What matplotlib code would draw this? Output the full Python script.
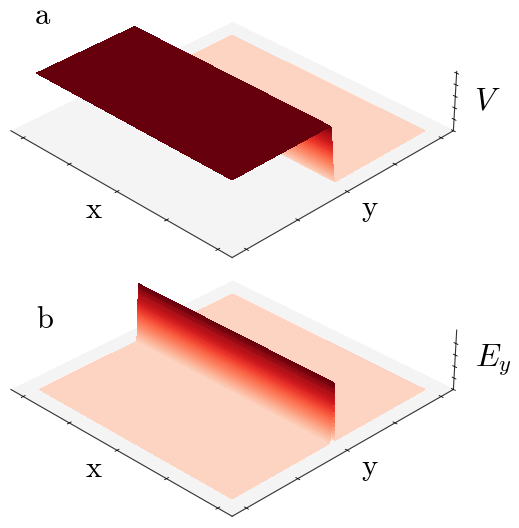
import numpy as np
import matplotlib
matplotlib.use("Agg")
import matplotlib.pyplot as plt

plt.rcParams["mathtext.fontset"] = "cm"

# values (x and y in axis fractions)
x_vals = [0.064, 0.10, 0.14, 0.18, 0.22, 0.26, 0.30, 0.34, 0.38, 0.42, 0.46, 0.50,
          0.54, 0.58, 0.62, 0.66, 0.70, 0.74, 0.78, 0.82, 0.86, 0.90, 0.936]

y_low = [0.064, 0.10, 0.14, 0.18, 0.22, 0.26, 0.30, 0.34, 0.38, 0.42, 0.46, 0.48]
y_high = [0.52, 0.55, 0.58, 0.62, 0.66, 0.70, 0.74, 0.78, 0.82, 0.86, 0.90, 0.936]

y_step_v = [0.48600, 0.48654, 0.48708, 0.48762, 0.48816, 0.48870, 0.48924, 0.48978, 0.49032, 0.49086,
            0.49140, 0.49194, 0.49248, 0.49302, 0.49356, 0.49410, 0.49464, 0.49518, 0.49572, 0.49626,
            0.49680, 0.49734, 0.49788, 0.49842, 0.49896, 0.49950, 0.50004, 0.50058, 0.50112, 0.50166,
            0.50220, 0.50274, 0.50328, 0.50382, 0.50436, 0.50490, 0.50544, 0.50598, 0.50652, 0.50706,
            0.50760, 0.50814, 0.50868, 0.50922, 0.50976, 0.51030, 0.51084, 0.51138, 0.51192, 0.51246,
            0.51300]
v_step = [1.00, 1.00, 0.998, 0.995, 0.99, 0.98, 0.97, 0.955, 0.94, 0.92,
          0.90, 0.88, 0.855, 0.83, 0.805, 0.78, 0.75, 0.72, 0.69, 0.66,
          0.63, 0.60, 0.57, 0.54, 0.51, 0.48, 0.45, 0.42, 0.39, 0.36,
          0.33, 0.30, 0.27, 0.245, 0.22, 0.195, 0.17, 0.15, 0.13, 0.11,
          0.09, 0.075, 0.06, 0.045, 0.035, 0.025, 0.015, 0.01, 0.005, 0.002, 0.0]

y_step_e = [0.48600, 0.48920, 0.49048, 0.49128, 0.49208, 0.49272, 0.49320, 0.49368, 0.49408, 0.49448,
            0.49488, 0.49528, 0.49552, 0.49576, 0.49600, 0.49624, 0.49648, 0.49672, 0.49696, 0.49720,
            0.49744, 0.49760, 0.49784, 0.49800, 0.49824, 0.49840, 0.49856, 0.49880, 0.49896, 0.49912,
            0.49936, 0.49952, 0.49968, 0.49984, 0.50000, 0.50016, 0.50032, 0.50048, 0.50064, 0.50080,
            0.50096, 0.50112, 0.50128, 0.50144, 0.50160, 0.50176, 0.50192, 0.50208, 0.50224, 0.50240,
            0.50264, 0.50328, 0.50392, 0.50456, 0.50520, 0.50584, 0.50648, 0.50712, 0.50776, 0.50840,
            0.50904, 0.50968, 0.51032, 0.51096, 0.51160, 0.51224, 0.51288, 0.51352, 0.51416, 0.51480]
ey_step = [0.00, 0.02, 0.04, 0.06, 0.08, 0.10, 0.12, 0.14, 0.16, 0.18,
           0.20, 0.22, 0.24, 0.26, 0.28, 0.30, 0.32, 0.34, 0.36, 0.38,
           0.40, 0.42, 0.44, 0.46, 0.48, 0.50, 0.52, 0.54, 0.56, 0.58,
           0.60, 0.62, 0.64, 0.66, 0.68, 0.70, 0.72, 0.74, 0.76, 0.78,
           0.80, 0.82, 0.84, 0.86, 0.88, 0.90, 0.92, 0.94, 0.96, 0.98,
           1.00, 0.93, 0.84, 0.74, 0.63, 0.52, 0.42, 0.33, 0.25, 0.18,
           0.13, 0.09, 0.06, 0.04, 0.025, 0.015, 0.01, 0.005, 0.002, 0.0]

tick_x = [0.06, 0.28, 0.5, 0.72, 0.94]
tick_y = [0.06, 0.28, 0.5, 0.72, 0.94]
ticks_v = [0, 0.2, 0.4, 0.6, 0.8, 1.0]
ticks_e = [0, 0.2, 0.4, 0.6, 0.8]


def draw_panel(rect, low, y_step, step, high, zticks, zname, zpad, letter, letter_x, letter_y):
    ax = fig.add_axes(rect, projection="3d")
    y_all = y_low + y_step + y_high
    profile = [low] * len(y_low) + step + [high] * len(y_high)
    X, Y = np.meshgrid(x_vals, y_all)
    Z = np.tile(np.array(profile)[:, None], (1, len(x_vals)))
    surf = ax.plot_surface(X, Y, Z, cmap="Reds", vmin=-0.2, vmax=1.0, rstride=1, cstride=1,
                           linewidth=0, antialiased=False, shade=False)
    surf.set_clip_on(False)  # 3d axes clip to a square box, which cuts the corners
    ax.view_init(elev=31.2, azim=-45)
    ax.set_proj_type("persp", focal_length=1.6)
    ax.set_box_aspect((1, 1, 0.22), zoom=1.565)
    ax.set_xlim(0, 1)
    ax.set_ylim(0, 1)
    ax.set_zlim(0, 1.03)
    ax.set_xticks(tick_x)
    ax.set_yticks(tick_y)
    ax.set_zticks(zticks)
    ax.set_xticklabels([])
    ax.set_yticklabels([])
    ax.set_zticklabels([])
    ax.grid(False)
    ax.patch.set_alpha(0)
    ax.xaxis.set_pane_color((1, 1, 1, 0))
    ax.yaxis.set_pane_color((1, 1, 1, 0))
    ax.zaxis.set_pane_color((0.957, 0.957, 0.957, 1))
    for a in (ax.xaxis, ax.yaxis, ax.zaxis):
        a.line.set_color("#333333")
        a.line.set_linewidth(0.8)
        a._axinfo["tick"]["inward_factor"] = 0.1
        a._axinfo["tick"]["outward_factor"] = 0.1
        a._axinfo["tick"]["linewidth"] = {True: 0.6, False: 0.6}
        a.set_rotate_label(False)
    ax.set_xlabel(r"$\mathrm{x}$", fontsize=22, labelpad=-11)
    ax.set_ylabel(r"$\mathrm{y}$", fontsize=22, labelpad=-11)
    ax.set_zlabel(zname, fontsize=23, labelpad=zpad)
    fig.text(letter_x / 519, 1 - letter_y / 528, r"$\mathrm{" + letter + "}$", fontsize=22,
             ha="center", va="center")
    return ax


fig = plt.figure(figsize=(5.19, 5.28), dpi=100)
draw_panel([-0.03, 0.536, 0.94, 0.53], 1.0, y_step_v, v_step, 0.0, ticks_v, r"$V$", -13.5, "a", 43, 15)
draw_panel([-0.03, 0.046, 0.94, 0.53], 0.0, y_step_e, ey_step, 0.0, ticks_e, r"$E_y$", -12, "b", 45, 320)
fig.savefig("out.png", dpi=100)
